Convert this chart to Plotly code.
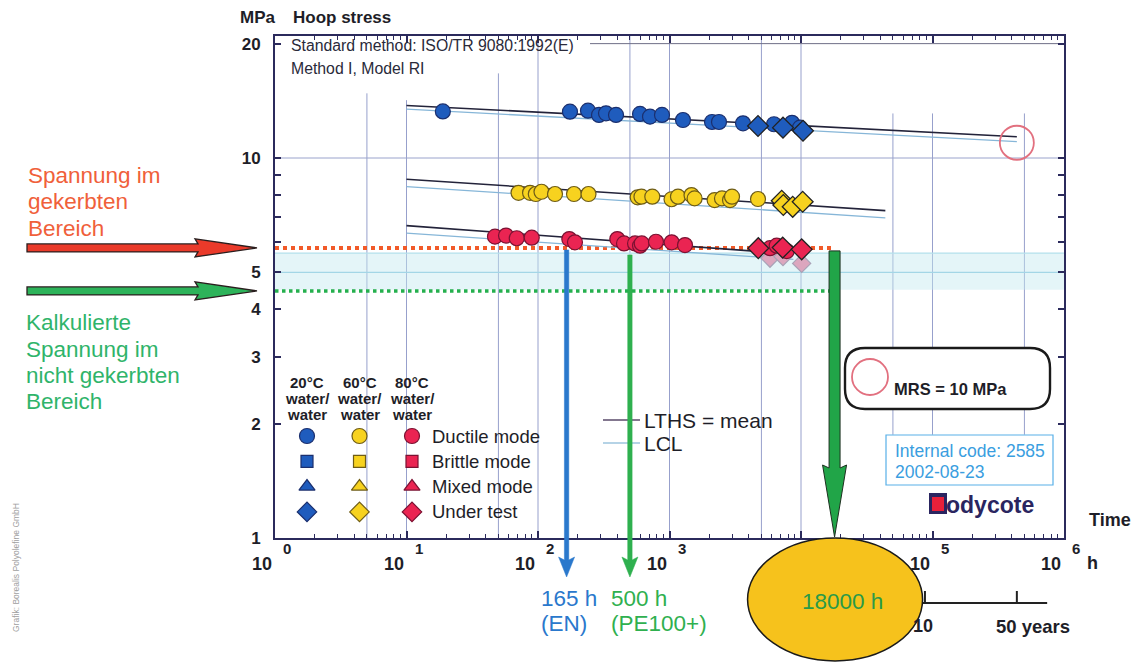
import math
import plotly.graph_objects as go

# ---------------- data (hours, MPa) ----------------
t20_ductile = [18.9, 175, 240, 291, 329, 392, 597, 711, 877, 1266, 2105, 2379, 3623, 6232, 8543, 9826]
s20_ductile = [13.26, 13.24, 13.32, 12.98, 13.11, 12.98, 13.06, 12.85, 12.98, 12.59, 12.44, 12.44, 12.34, 12.27, 12.38, 12.02]
t20_running = [4710, 7298, 10356]
s20_running = [12.14, 12.02, 11.80]

t60_ductile = [71.1, 87.0, 96.2, 106.3, 134.7, 187.8, 242.1, 573, 612, 740, 1036, 1160, 1470, 1552, 2203, 2507, 2885, 2988, 4710]
s60_ductile = [8.10, 8.10, 8.04, 8.15, 8.04, 8.04, 8.04, 7.88, 7.91, 7.91, 7.79, 7.91, 7.99, 7.83, 7.75, 7.83, 7.75, 7.91, 7.80]
t60_running = [7133, 7336, 8648, 10300]
s60_running = [7.72, 7.52, 7.44, 7.67]

t80_ductile = [47.1, 57.1, 68.9, 89.6, 173, 191, 401, 451, 547, 597, 615, 789, 1039, 1312, 5812, 6535, 7786]
s80_ductile = [6.21, 6.25, 6.15, 6.17, 6.12, 6.00, 6.12, 5.96, 5.96, 5.88, 5.96, 6.02, 6.00, 5.90, 5.79, 5.88, 5.69]
t80_running = [4735, 7258, 10120]
s80_running = [5.79, 5.81, 5.75]
t80_faded = [5812, 7298, 10120]
s80_faded = [5.45, 5.50, 5.28]

# regression lines: LTHS (mean) and LCL, start/end per temperature
reg_keys = ["20", "60", "80"]
reg_t = [[10, 438000], [10, 43800], [10, 8760]]
reg_mean = [[13.75, 11.38], [8.79, 7.27], [6.64, 5.59]]
reg_lcl = [[13.45, 11.04], [8.41, 6.96], [6.34, 5.41]]

mrs_t = [438000]
mrs_s = [10.97]

stress_notched = 5.8
stress_unnotched = 4.47
band_low, band_high = 4.5, 5.62
t_en = 165
t_pe100 = 500
t_notched = 18000

x_tick_exps = [0, 1, 2, 3, 5, 6]
y_tick_vals = [1, 2, 3, 4, 5, 6, 7, 8, 9, 10, 20]
y_tick_text = ["1", "2", "3", "4", "5", "", "", "", "", "10", "20"]

grid_t = [5, 10, 50, 100, 500, 1000, 5000, 1e4, 5e4, 1e5, 5e5]
grid_top = [14.8, 14.2, 16.7, 21, 21, 21, 21, 21, 13.1, 13.1, 13.1]
grid_bottom = [1, 1, 1, 1, 1, 1, 1, 1, 1.87, 1.87, 1.87]
grid_s = [5, 10, 20]

hours_per_year = 8760
years_start, years_end = 1, 85
years_marks = [10, 50]

legend_modes = ["Ductile mode", "Brittle mode", "Mixed mode", "Under test"]
legend_symbols = ["circle", "square", "triangle-up", "diamond"]
legend_sizes = [15, 12, 14, 15]
legend_heads = [["20°C", "water/", "water"], ["60°C", "water/", "water"], ["80°C", "water/", "water"]]

# ---------------- geometry (page pixels) ----------------
PAGE_W, PAGE_H = 1147, 664
OFF = 8                       # default body margin of the html page
PL, PR, PT, PB = 275, 1064, 36, 538   # plot area on the page
W, H = PAGE_W - OFF, PAGE_H - OFF
ML, MT = PL - OFF, PT - OFF
MR, MB = W - (PR - OFF), H - (PB - OFF)
X_RANGE = [0, 6]
Y_RANGE = [0, 1.3211]
PW, PH = PR - PL, PB - PT
FONT = "Liberation Sans, Arial, Helvetica, sans-serif"
DARK = "#1e1e28"
AXIS = "#2b2a5c"


def xp(px):
    return (px - PL) / PW


def yp(py):
    return (PB - py) / PH


def px_of_t(t):
    return PL + (math.log10(t) - X_RANGE[0]) / (X_RANGE[1] - X_RANGE[0]) * PW


def py_of_s(s):
    return PB - (math.log10(s) - Y_RANGE[0]) / (Y_RANGE[1] - Y_RANGE[0]) * PH


def P(px, py):
    return f"{xp(px):.5f},{yp(py):.5f}"


def poly(points):
    return "M " + " L ".join(P(x, y) for x, y in points) + " Z"


colors = {
    "20": dict(fill="#1f5cbd", line="#1b2f6e"),
    "60": dict(fill="#f7d21f", line="#6e5c16"),
    "80": dict(fill="#ea2452", line="#7a1232"),
}

fig = go.Figure()

# regression lines
for k, tt, mm, ll in zip(reg_keys, reg_t, reg_mean, reg_lcl):
    fig.add_trace(go.Scatter(x=tt, y=ll, mode="lines", line=dict(color="#86b6d8", width=1.3),
                             showlegend=False, hoverinfo="skip"))
    fig.add_trace(go.Scatter(x=tt, y=mm, mode="lines", line=dict(color="#23233a", width=1.6),
                             showlegend=False, hoverinfo="skip"))

fig.add_trace(go.Scatter(x=t80_faded, y=s80_faded, mode="markers", showlegend=False, cliponaxis=False,
                         marker=dict(symbol="diamond", size=14, color="#dca6be",
                                     line=dict(color="#a9a2b6", width=1.2))))

groups = [("20", t20_ductile, s20_ductile, t20_running, s20_running),
          ("60", t60_ductile, s60_ductile, t60_running, s60_running),
          ("80", t80_ductile, s80_ductile, t80_running, s80_running)]
for k, td, sd, tr, sr in groups:
    c = colors[k]
    fig.add_trace(go.Scatter(x=td, y=sd, mode="markers", showlegend=False, cliponaxis=False,
                             marker=dict(symbol="circle", size=15, color=c["fill"],
                                         line=dict(color=c["line"], width=1.2))))
    fig.add_trace(go.Scatter(x=tr, y=sr, mode="markers", showlegend=False, cliponaxis=False,
                             marker=dict(symbol="diamond", size=16, color=c["fill"],
                                         line=dict(color="#222222", width=1.3))))

fig.add_trace(go.Scatter(x=mrs_t, y=mrs_s, mode="markers", showlegend=False, cliponaxis=False,
                         marker=dict(symbol="circle-open", size=34, color="#e2707f",
                                     line=dict(width=1.8))))

# legend glyphs on a pixel overlay axis
leg_x0, leg_dx = 307, 52.5
leg_y0, leg_dy = 436, 25.3
for ci, k in enumerate(reg_keys):
    c = colors[k]
    for ri, sym in enumerate(legend_symbols):
        fig.add_trace(go.Scatter(x=[leg_x0 + ci * leg_dx], y=[leg_y0 + ri * leg_dy], xaxis="x2", yaxis="y2",
                                 mode="markers", showlegend=False, hoverinfo="skip",
                                 marker=dict(symbol=sym, size=legend_sizes[ri], color=c["fill"],
                                             line=dict(color=c["line"], width=1.2))))

shapes = []
# vertical grid lines
for t, lo, hi in zip(grid_t, grid_bottom, grid_top):
    shapes.append(dict(type="line", xref="x", yref="y", x0=t, x1=t, y0=lo, y1=hi, layer="below",
                       line=dict(color="#97a0cc", width=1)))
# horizontal grid lines
shapes.append(dict(type="line", xref="x", yref="y", x0=1, x1=1e6, y0=grid_s[1], y1=grid_s[1], layer="below",
                   line=dict(color="#9aa3cc", width=1)))
shapes.append(dict(type="line", xref="x", yref="y", x0=10 ** ((590 - PL) / PW * 6), x1=1e6, y0=grid_s[2],
                   y1=grid_s[2], layer="below", line=dict(color="#6e6e86", width=1)))
# light band
shapes.append(dict(type="rect", xref="x", yref="y", x0=1, x1=1e6, y0=band_low, y1=band_high, layer="below",
                   fillcolor="rgba(196,232,240,0.45)", line=dict(width=0)))
shapes.append(dict(type="line", xref="x", yref="y", x0=1, x1=1e6, y0=band_high, y1=band_high, layer="below",
                   line=dict(color="#b4e0ec", width=1.2)))
shapes.append(dict(type="line", xref="x", yref="y", x0=1, x1=1e6, y0=grid_s[0], y1=grid_s[0], layer="below",
                   line=dict(color="#a3d6e6", width=1.2)))
# white legend backgrounds
shapes.append(dict(type="rect", xref="paper", yref="paper", x0=xp(280), x1=xp(552), y0=yp(534), y1=yp(372),
                   layer="below", fillcolor="white", line=dict(width=0)))
shapes.append(dict(type="rect", xref="paper", yref="paper", x0=xp(598), x1=xp(790), y0=yp(458), y1=yp(380),
                   layer="below", fillcolor="white", line=dict(width=0)))
# stress levels (dotted)
shapes.append(dict(type="line", xref="x", yref="y", x0=1, x1=t_notched, y0=stress_notched, y1=stress_notched,
                   layer="below", line=dict(color="#f15a29", width=4, dash="dot")))
shapes.append(dict(type="line", xref="x", yref="y", x0=1, x1=t_notched, y0=stress_unnotched, y1=stress_unnotched,
                   layer="below", line=dict(color="#25b04e", width=3.5, dash="dot")))

# LTHS / LCL legend lines
shapes.append(dict(type="line", xref="paper", yref="paper", x0=xp(603), x1=xp(640), y0=yp(420), y1=yp(420),
                   line=dict(color="#5a4a6a", width=1.4)))
shapes.append(dict(type="line", xref="paper", yref="paper", x0=xp(603), x1=xp(640), y0=yp(443), y1=yp(443),
                   line=dict(color="#9cc4de", width=1.4)))

# MRS rounded box
x0b, x1b, y0b, y1b, r = 845, 1050, 348, 409, 20
mrs_path = (f"M {P(x0b + r, y0b)} L {P(x1b - r, y0b)} Q {P(x1b, y0b)} {P(x1b, y0b + r)} "
            f"L {P(x1b, y1b - r)} Q {P(x1b, y1b)} {P(x1b - r, y1b)} L {P(x0b + r, y1b)} "
            f"Q {P(x0b, y1b)} {P(x0b, y1b - r)} L {P(x0b, y0b + r)} Q {P(x0b, y0b)} {P(x0b + r, y0b)} Z")
shapes.append(dict(type="path", xref="paper", yref="paper", path=mrs_path, fillcolor="white",
                   line=dict(color="#1a1a1a", width=2.4)))
shapes.append(dict(type="circle", xref="paper", yref="paper", x0=xp(852), x1=xp(888), y0=yp(395), y1=yp(359),
                   line=dict(color="#e2707f", width=1.8)))
# internal code box
shapes.append(dict(type="rect", xref="paper", yref="paper", x0=xp(886), x1=xp(1053), y0=yp(485), y1=yp(435),
                   fillcolor="white", line=dict(color="#58b0e8", width=1.2)))
# Bodycote logo square
shapes.append(dict(type="rect", xref="paper", yref="paper", x0=xp(929), x1=xp(947), y0=yp(514), y1=yp(493),
                   fillcolor="#2a2560", line=dict(width=0)))
shapes.append(dict(type="rect", xref="paper", yref="paper", x0=xp(932), x1=xp(944), y0=yp(511), y1=yp(497),
                   fillcolor="#e8203a", line=dict(width=0)))

# years axis (partly hidden by the ellipse)
y_years = 603
shapes.append(dict(type="line", xref="paper", yref="paper", x0=xp(px_of_t(years_start * hours_per_year)),
                   x1=xp(px_of_t(years_end * hours_per_year)), y0=yp(y_years), y1=yp(y_years),
                   line=dict(color="#222222", width=2)))
for yrs in years_marks:
    xx = xp(px_of_t(yrs * hours_per_year))
    shapes.append(dict(type="line", xref="paper", yref="paper", x0=xx, x1=xx, y0=yp(y_years), y1=yp(y_years - 12),
                       line=dict(color="#222222", width=2)))

# ellipse around 18000 h
cxn = px_of_t(t_notched)
shapes.append(dict(type="circle", xref="paper", yref="paper", x0=xp(cxn - 87), x1=xp(cxn + 88),
                   y0=yp(661), y1=yp(538), fillcolor="#f6c21c", line=dict(color="#1a1a1a", width=1.5)))


# vertical arrows
def v_arrow(cx, top, tip, half_shaft, half_head, head_len, fill, outline=None):
    base = tip - head_len
    pts = [(cx - half_shaft, top), (cx + half_shaft, top), (cx + half_shaft, base + 3),
           (cx + half_head, base), (cx, tip), (cx - half_head, base), (cx - half_shaft, base + 3)]
    return dict(type="path", xref="paper", yref="paper", path=poly(pts), fillcolor=fill,
                line=dict(color=outline or fill, width=1 if outline else 0.5))


top_n = py_of_s(stress_notched)
shapes.append(v_arrow(px_of_t(t_en), top_n + 2, 577, 2.2, 8, 20, "#2a78cc"))
shapes.append(v_arrow(px_of_t(t_pe100), top_n + 7, 577, 2.2, 8, 20, "#2fb04f"))
shapes.append(v_arrow(cxn, top_n + 3, 537, 5.5, 12, 72, "#21a548", "#1e3020"))


# horizontal arrows on the left
def h_arrow(cy, fill):
    pts = [(27, cy - 4), (198, cy - 4), (195, cy - 9), (257, cy), (195, cy + 9), (198, cy + 4), (27, cy + 4)]
    return dict(type="path", xref="paper", yref="paper", path=poly(pts), fillcolor=fill,
                line=dict(color="#2a1e1e", width=1.3))


shapes.append(h_arrow(py_of_s(stress_notched), "#ea3a2a"))
shapes.append(h_arrow(py_of_s(stress_unnotched), "#2db35a"))

# ---------------- annotations ----------------
ann = []


def txt(text, px, py, size, color=DARK, bold=False, xanchor="left", yanchor="middle", **kw):
    ann.append(dict(text=f"<b>{text}</b>" if bold else text, x=xp(px), y=yp(py), xref="paper", yref="paper",
                    xanchor=xanchor, yanchor=yanchor, showarrow=False,
                    font=dict(family=FONT, size=size, color=color), **kw))


txt("MPa", 238, 17, 17, bold=True)
txt("Hoop stress", 291, 17, 17, bold=True)
txt("Standard method: ISO/TR 9080:1992(E)", 289, 46, 15.8, color="#2a2a3a")
txt("Method I, Model RI", 289, 68, 15.8, color="#2a2a3a")

# x tick labels 10^n
for k in x_tick_exps:
    ann.append(dict(text="<b>10</b>", x=k, y=yp(564), xref="x", yref="paper", xanchor="right", yanchor="middle",
                    xshift=-1, showarrow=False, font=dict(family=FONT, size=18, color=DARK)))
    ann.append(dict(text=f"<b>{k}</b>", x=k, y=yp(548), xref="x", yref="paper", xanchor="left", yanchor="middle",
                    xshift=6, showarrow=False, font=dict(family=FONT, size=15, color=DARK)))
txt("h", 1085, 563, 18, bold=True)
txt("Time", 1087, 520, 18, bold=True)

# legend headers and labels
for ci, head in enumerate(legend_heads):
    for li, line in enumerate(head):
        txt(line, leg_x0 + ci * leg_dx, 382 + li * 16, 15, bold=True, xanchor="center")
for ri, lab in enumerate(legend_modes):
    txt(lab, 430, leg_y0 + ri * leg_dy, 18.5)

txt("LTHS = mean", 642, 420, 21)
txt("LCL", 642, 443, 21)
txt("MRS = 10 MPa", 892, 389, 16.5, bold=True)
txt("Internal code: 2585", 893, 451, 17.5, color="#3a9ee0")
txt("2002-08-23", 893, 472, 17.5, color="#3a9ee0")
txt("odycote", 944, 505, 23, color="#2a2560", bold=True)

# left side texts
for i, line in enumerate(["Spannung im", "gekerbten", "Bereich"]):
    txt(line, 26, 175 + i * 26.5, 22.5, color="#f0603a")
for i, line in enumerate(["Kalkulierte", "Spannung im", "nicht gekerbten", "Bereich"]):
    txt(line, 24, 323 + i * 26, 22.5, color="#2fb46a")

# bottom texts
px_en, px_pe = px_of_t(t_en), px_of_t(t_pe100)
txt(f"{t_en} h", px_en - 28, 598, 22.5, color="#2a78cc")
txt("(EN)", px_en - 28, 623, 22.5, color="#2a78cc")
txt(f"{t_pe100} h", px_pe - 21, 598, 22.5, color="#2fb04f")
txt("(PE100+)", px_pe - 21, 623, 22.5, color="#2fb04f")
txt(f"{t_notched} h", cxn + 8, 601, 22.5, color="#2a9a48", xanchor="center")
txt(str(years_marks[0]), px_of_t(years_marks[0] * hours_per_year) - 2, 626, 18, bold=True, xanchor="center")
txt(f"{years_marks[1]} years", px_of_t(years_marks[1] * hours_per_year) - 23, 626, 18.5, bold=True)

ann.append(dict(text="Grafik: Borealis Polyolefine GmbH", x=xp(16), y=yp(568), xref="paper", yref="paper",
                textangle=-90, showarrow=False, xanchor="center", yanchor="middle",
                font=dict(family=FONT, size=8.5, color="#a0a0a0")))

fig.update_layout(
    width=W, height=H, autosize=False,
    margin=dict(l=ML, r=MR, t=MT, b=MB, pad=0),
    paper_bgcolor="white", plot_bgcolor="white",
    showlegend=False,
    font=dict(family=FONT, color=DARK),
    xaxis=dict(type="log", range=X_RANGE, showgrid=False, zeroline=False, showline=True, linecolor=AXIS,
               linewidth=2, mirror="ticks", ticks="inside", ticklen=7, tickwidth=1.5, tickcolor=AXIS,
               tickvals=[10 ** k for k in range(7)], showticklabels=False,
               minor=dict(tickvals=[m * 10 ** k for k in range(6) for m in range(2, 10)], ticks="inside",
                          ticklen=4, tickwidth=1.3, tickcolor=AXIS, showgrid=False)),
    yaxis=dict(type="log", range=Y_RANGE, showgrid=False, zeroline=False, showline=True, linecolor=AXIS,
               linewidth=2, mirror="ticks", ticks="inside", ticklen=6, tickwidth=1.5, tickcolor=AXIS,
               tickvals=y_tick_vals, ticktext=[f"<b>{t}</b>" if t else "" for t in y_tick_text],
               tickfont=dict(family=FONT, size=17, color=DARK), ticklabelstandoff=9),
    xaxis2=dict(overlaying="x", range=[PL, PR], visible=False, fixedrange=True),
    yaxis2=dict(overlaying="y", range=[PB, PT], visible=False, fixedrange=True),
    shapes=shapes,
    annotations=ann,
)

fig.write_html("out.html")
